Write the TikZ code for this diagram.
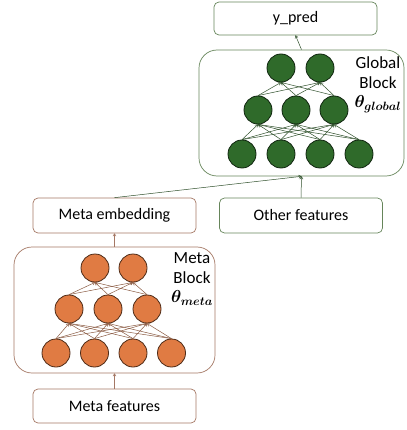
\documentclass[tikz,border=0pt]{standalone}
\usepackage{amsmath}
\usepackage{fontspec}
\setmainfont{Carlito}
\usetikzlibrary{arrows.meta}
\definecolor{metaorange}{HTML}{E07B43}
\definecolor{metaline}{HTML}{A47764}
\definecolor{metawire}{HTML}{8A5A42}
\definecolor{globalgreen}{HTML}{2F6A2A}
\definecolor{globalline}{HTML}{66855A}
\definecolor{globalwire}{HTML}{2E4F2A}
\tikzset{
    neuron/.style={circle,draw=#1!35!black,fill=#1,minimum size=28pt,inner sep=0pt,line width=0.8pt},
    featbox/.style={draw=#1,rounded corners=5pt,minimum width=163pt,minimum height=34pt,
        inner sep=0pt,line width=0.7pt,font=\fontsize{16}{18}\selectfont},
    blockbox/.style={draw=#1,rounded corners=18pt,inner sep=0pt,line width=0.7pt},
    wire/.style={draw=#1,line width=0.5pt,-{To[length=3pt,width=3.5pt]}},
    blocktext/.style={align=center,font=\fontsize{17}{19.5}\selectfont}
}

\begin{document}
\begin{tikzpicture}[x=1pt,y=-1pt]
\useasboundingbox (0,0) rectangle (406,430);

% ========= Meta Block =========
\node[blockbox=metaline,minimum width=201pt,minimum height=126pt] (metablock) at (114.5,310) {};
\node[blocktext] (metatext) at (192,279) {Meta\\Block\\$\boldsymbol{\theta_{meta}}$};

% == layer 1 ==%
\foreach \x [count=\i] in {56,94.5,133,171.5}
    \node[neuron=metaorange] (m1-\i) at (\x,353) {};
% == layer 2 ==%
\foreach \x [count=\i] in {69,108,147}
    \node[neuron=metaorange] (m2-\i) at (\x,309) {};
% == layer 3 ==%
\foreach \x [count=\i] in {95,133}
    \node[neuron=metaorange] (m3-\i) at (\x,268) {};

\foreach \i in {1,...,4}
    \foreach \j in {1,...,3}
        \draw[wire=metawire] (m1-\i.north) -- (m2-\j.south);
\foreach \i in {1,...,3}
    \foreach \j in {1,2}
        \draw[wire=metawire] (m2-\i.north) -- (m3-\j.south);

% ========= Global Block =========
\node[blockbox=globalline,minimum width=205pt,minimum height=126pt] (globalblock) at (301.5,113) {};
\node[blocktext] (globaltext) at (378,85) {Global\\Block\\$\boldsymbol{\theta_{global}}$};

% == layer 1 ==%
\foreach \x [count=\i] in {242,281,320,359}
    \node[neuron=globalgreen] (g1-\i) at (\x,154) {};
% == layer 2 ==%
\foreach \x [count=\i] in {258,296,334}
    \node[neuron=globalgreen] (g2-\i) at (\x,110) {};
% == layer 3 ==%
\foreach \x [count=\i] in {281,320}
    \node[neuron=globalgreen] (g3-\i) at (\x,68) {};

\foreach \i in {1,...,4}
    \foreach \j in {1,...,3}
        \draw[wire=globalwire] (g1-\i.north) -- (g2-\j.south);
\foreach \i in {1,...,3}
    \foreach \j in {1,2}
        \draw[wire=globalwire] (g2-\i.north) -- (g3-\j.south);

% ========= Inputs and outputs =========
\node[featbox=metaline] (metafeat) at (114.5,406) {Meta features};
\node[featbox=metaline,minimum height=35pt] (metaemb) at (114.5,215.5) {Meta embedding};
\node[featbox=globalline,minimum height=35pt] (other) at (301,215.5) {Other features};
\node[featbox=globalline,minimum height=33pt] (ypred) at (295.5,18.5) {y\_pred};

\draw[wire=metaline] (metafeat.north) -- (metablock.south);
\draw[wire=metaline] (metablock.north) -- (metaemb.south);
\draw[wire=globalwire] (metaemb.north) -- (globalblock.south);
\draw[wire=globalwire] (other.north) -- (globalblock.south);
\draw[wire=globalwire] (globalblock.north) -- (ypred.south);

\end{tikzpicture}
\end{document}
